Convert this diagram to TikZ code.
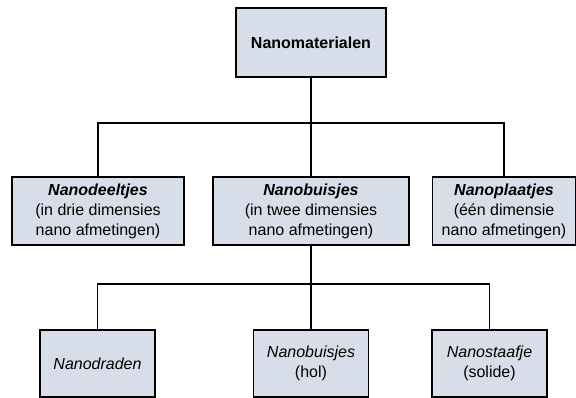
\documentclass[tikz,border=0pt]{standalone}
\usepackage{fontspec}
\setmainfont{Liberation Sans}
\usetikzlibrary{positioning}
\definecolor{boxfill}{RGB}{216,222,233}
\tikzstyle{block} = [draw, fill=boxfill, rectangle, line width=1.3pt, align=center, minimum height=68pt, font=\fontsize{16}{20}\selectfont]
\tikzstyle{leaf} = [block, minimum width=115pt, minimum height=67pt]
\tikzstyle{branch} = [coordinate]
\tikzstyle{link} = [line width=1.3pt]

\begin{document}
\begin{tikzpicture}[x=1pt, y=-1pt, node distance=2cm]
    \useasboundingbox (0,0) rectangle (576,398);
    % Top
    \node [block, minimum width=150pt, minimum height=69pt] (nanomat) at (311,42.5) {\textbf{Nanomaterialen}};
    % Second level
    \node [block, minimum width=196pt, below of=nanomat, node distance=168.5pt] (buisjes) {\textbf{\textit{Nanobuisjes}}\\(in twee dimensies\\nano afmetingen)};
    \node [block, minimum width=172pt, left of=buisjes, node distance=213pt] (deeltjes) {\textbf{\textit{Nanodeeltjes}}\\(in drie dimensies\\nano afmetingen)};
    \node [block, minimum width=143pt, right of=buisjes, node distance=193pt] (plaatjes) {\textbf{\textit{Nanoplaatjes}}\\(één dimensie\\nano afmetingen)};
    % Third level
    \node [leaf, below of=buisjes, node distance=152.5pt] (hol) {\textit{Nanobuisjes}\\(hol)};
    \node [leaf, left of=hol, node distance=213.5pt] (draden) {\textit{Nanodraden}};
    \node [leaf, right of=hol, node distance=178.5pt] (staafje) {\textit{Nanostaafje}\\(solide)};
    \node [branch] (split1) at (311,123) {};
    \node [branch] (split2) at (311,284) {};

    % Connections
    \draw [link] (nanomat) -- (split1);
    \draw [link] (split1) -| (deeltjes);
    \draw [link] (split1) -- (buisjes);
    \draw [link] (split1) -| (plaatjes);
    \draw [link] (buisjes) -- (split2);
    \draw [link] (split2) -| (draden);
    \draw [link] (split2) -- (hol);
    \draw [link] (split2) -| (staafje);
\end{tikzpicture}
\end{document}
